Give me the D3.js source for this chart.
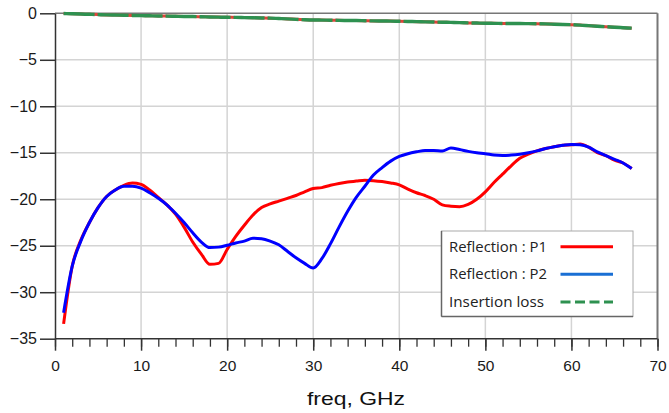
<!DOCTYPE html>
<html>
<head>
<meta charset="utf-8">
<script src="https://cdn.jsdelivr.net/npm/d3@7"></script>
<style>
html,body{margin:0;padding:0;background:#fff;}
svg{display:block;}
</style>
</head>
<body>
<svg id="chart" width="669" height="413"></svg>
<script>
const freq = [1,2,3,4,5,6,7,8,9,10,11,12,13,14,15,16,17,18,19,20,21,22,23,24,25,26,27,28,29,30,31,32,33,34,35,36,37,38,39,40,41,42,43,44,45,46,47,48,49,50,51,52,53,54,55,56,57,58,59,60,61,62,63,64,65,66,67];
const reflP1 = [-33.4,-27.2,-24.4,-22.5,-20.9,-19.7,-19.0,-18.5,-18.25,-18.4,-19.0,-19.8,-20.6,-21.6,-23.0,-24.6,-25.9,-27.0,-26.9,-25.4,-24.0,-22.8,-21.7,-20.9,-20.5,-20.2,-19.9,-19.6,-19.2,-18.85,-18.75,-18.5,-18.3,-18.15,-18.05,-17.95,-18.0,-18.1,-18.25,-18.45,-18.9,-19.3,-19.6,-20.0,-20.6,-20.75,-20.8,-20.55,-20.0,-19.2,-18.2,-17.3,-16.4,-15.6,-15.15,-14.8,-14.55,-14.35,-14.2,-14.15,-14.05,-14.4,-15.0,-15.3,-15.8,-16.1,-16.7];
const reflP2 = [-32.2,-27.2,-24.5,-22.5,-20.9,-19.7,-19.0,-18.6,-18.6,-18.8,-19.3,-19.9,-20.6,-21.5,-22.5,-23.6,-24.6,-25.2,-25.15,-24.95,-24.7,-24.5,-24.2,-24.25,-24.5,-24.9,-25.6,-26.3,-26.9,-27.4,-26.4,-24.8,-23.0,-21.3,-19.8,-18.6,-17.4,-16.6,-15.9,-15.4,-15.1,-14.9,-14.75,-14.75,-14.8,-14.5,-14.65,-14.85,-15.0,-15.1,-15.25,-15.3,-15.25,-15.15,-15.0,-14.8,-14.55,-14.35,-14.2,-14.1,-14.15,-14.4,-14.9,-15.3,-15.7,-16.1,-16.7];
const insLoss = [-0.02,-0.05,-0.08,-0.11,-0.14,-0.17,-0.19,-0.21,-0.23,-0.25,-0.27,-0.29,-0.3,-0.32,-0.34,-0.35,-0.37,-0.39,-0.41,-0.43,-0.44,-0.46,-0.48,-0.5,-0.52,-0.56,-0.6,-0.65,-0.69,-0.72,-0.73,-0.74,-0.76,-0.77,-0.78,-0.8,-0.82,-0.83,-0.84,-0.86,-0.88,-0.9,-0.92,-0.94,-0.96,-0.98,-1.0,-1.03,-1.05,-1.07,-1.08,-1.09,-1.1,-1.1,-1.11,-1.12,-1.14,-1.17,-1.2,-1.23,-1.27,-1.33,-1.39,-1.44,-1.5,-1.55,-1.6];
const xTicks = [0,10,20,30,40,50,60,70];
const xMinorTicks = d3.range(0,71,2);
const yTicks = [0,-5,-10,-15,-20,-25,-30,-35];
const seriesNames = ["Reflection : P1","Reflection : P2","Insertion loss"];
const xLabel = "freq, GHz";

const svg = d3.select("#chart");
const L = 55, R = 657.5, T = 13.3, B = 338.7;
const x = d3.scaleLinear().domain([0,70]).range([L,R]);
const y = d3.scaleLinear().domain([-35,0]).range([B,T]);
const font = "'Liberation Sans', Arial, sans-serif";

// grid
const grid = svg.append("g");
grid.selectAll(".gx").data(xTicks.slice(1,-1)).join("line")
  .attr("x1",d=>x(d)).attr("x2",d=>x(d)).attr("y1",T).attr("y2",B)
  .attr("stroke","#d4d4d4").attr("stroke-width",1.5);
grid.selectAll(".gy").data(yTicks.slice(1,-1)).join("line")
  .attr("x1",L).attr("x2",R).attr("y1",d=>y(d)).attr("y2",d=>y(d))
  .attr("stroke","#d4d4d4").attr("stroke-width",1.5);

// frame top & right
svg.append("line").attr("x1",L).attr("x2",R).attr("y1",T).attr("y2",T).attr("stroke","#777").attr("stroke-width",1.5);
svg.append("line").attr("x1",R).attr("x2",R).attr("y1",T).attr("y2",B).attr("stroke","#777").attr("stroke-width",2);

// x axis
const xAxisMinor = d3.axisBottom(x).tickValues(xMinorTicks).tickSize(8).tickFormat("");
const gxm = svg.append("g").attr("transform",`translate(0,${B})`).call(xAxisMinor);
gxm.select(".domain").remove();
gxm.selectAll("line").attr("stroke","#333").attr("stroke-width",1.3);
const xAxis = d3.axisBottom(x).tickValues(xTicks).tickSize(12).tickSizeOuter(0).tickPadding(7);
const gx = svg.append("g").attr("transform",`translate(0,${B})`).call(xAxis);
gx.select(".domain").attr("stroke","#333").attr("stroke-width",1.5).attr("d",`M${L},0H${R}`);
gx.selectAll("line").attr("stroke","#333").attr("stroke-width",1.5);
gx.selectAll("text").attr("font-family",font).attr("font-size",15.5).attr("fill","#1a1a1a").attr("dy","0.85em");

// y axis
const yAxis = d3.axisLeft(y).tickValues(yTicks).tickSize(15).tickSizeOuter(0).tickPadding(3);
const gy = svg.append("g").attr("transform",`translate(${L},0)`).call(yAxis);
gy.select(".domain").attr("stroke","#333").attr("stroke-width",1.5);
gy.selectAll("line").attr("stroke","#333").attr("stroke-width",1.5);
gy.selectAll("text").attr("font-family",font).attr("font-size",16).attr("fill","#1a1a1a");

// lines
const data = (vals)=>freq.map((f,i)=>[f,vals[i]]);
const line = d3.line().x(d=>x(d[0])).y(d=>y(d[1])).curve(d3.curveMonotoneX);

svg.append("path").attr("d",line(data(insLoss))).attr("fill","none")
  .attr("stroke","#e0443a").attr("stroke-width",3);
svg.append("path").attr("d",line(data(insLoss))).attr("fill","none")
  .attr("stroke","#2e9150").attr("stroke-width",3.4).attr("stroke-dasharray","31,3");

svg.append("path").attr("d",line(data(reflP1))).attr("fill","none")
  .attr("stroke","#ff0000").attr("stroke-width",3).attr("stroke-linejoin","round");
svg.append("path").attr("d",line(data(reflP2))).attr("fill","none")
  .attr("stroke","#0000ff").attr("stroke-width",3).attr("stroke-linejoin","round");

// legend
const lg = svg.append("g");
lg.append("rect").attr("x",441.5).attr("y",231).attr("width",191.5).attr("height",85.5)
  .attr("fill","#fff").attr("stroke","#aaa").attr("stroke-width",1);
lg.append("line").attr("x1",441.5).attr("x2",441.5).attr("y1",231).attr("y2",316.5).attr("stroke","#666").attr("stroke-width",1.5);
lg.append("line").attr("x1",441.5).attr("x2",633).attr("y1",316.5).attr("y2",316.5).attr("stroke","#666").attr("stroke-width",1.5);
const legendColors = ["#ff0000","#1a6fd4","#2e9150"];
const legendDash = [null,null,"10,4.5"];
const legendY = [246.7,274.3,302];
seriesNames.forEach((name,i)=>{
  lg.append("text").attr("x",449).attr("y",legendY[i]).attr("dy","0.35em")
    .attr("font-family","'Open Sans', 'Noto Sans', sans-serif").attr("font-size",14.5).attr("fill","#222")
    .attr("textLength",i===2?95:98).attr("lengthAdjust","spacingAndGlyphs")
    .text(name);
  lg.append("line").attr("x1",560.5).attr("x2",613).attr("y1",legendY[i]).attr("y2",legendY[i])
    .attr("stroke",legendColors[i]).attr("stroke-width",3)
    .attr("stroke-dasharray",legendDash[i]);
});

// x label
svg.append("text").attr("x",356).attr("y",405).attr("text-anchor","middle")
  .attr("font-family",font).attr("font-size",18.5).attr("fill","#111")
  .attr("textLength",98).attr("lengthAdjust","spacingAndGlyphs")
  .text(xLabel);
</script>
</body>
</html>
